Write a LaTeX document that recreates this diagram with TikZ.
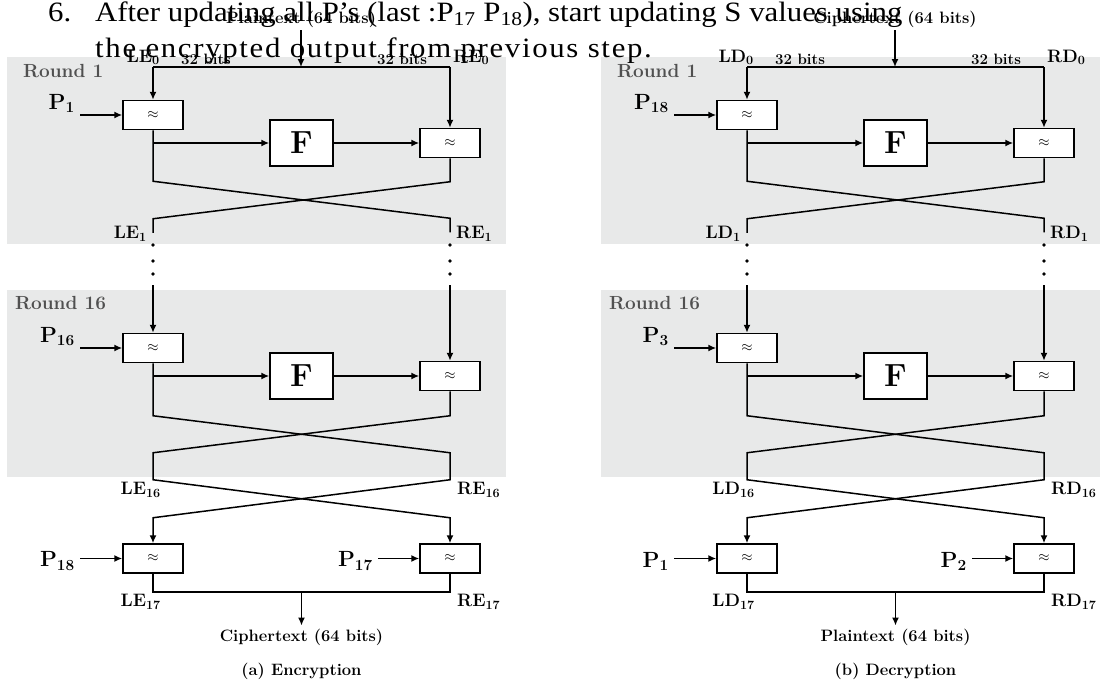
\documentclass[tikz,border=0pt]{standalone}
\usepackage{fontspec}
\newfontfamily\slidefont[FakeStretch=1.1]{Liberation Serif}
\usetikzlibrary{arrows.meta,positioning}
\definecolor{roundgray}{RGB}{232,233,233}
\definecolor{labelgray}{RGB}{80,80,80}

\begin{document}
\begin{tikzpicture}[x=1pt,y=-1pt,
    wire/.style={line width=1.5pt},
    flow/.style={wire,-{Latex[length=8pt,width=7pt]}},
    xorbox/.style={draw,line width=1.5pt,fill=white,minimum width=60pt,minimum height=29pt,inner sep=0pt,font=\fontsize{15}{15}\selectfont},
    fnbox/.style={draw,line width=1.5pt,fill=white,minimum width=63pt,minimum height=46pt,inner sep=0pt,font=\fontsize{32}{32}\selectfont\bfseries},
    sidelbl/.style={font=\fontsize{18}{18}\selectfont\bfseries,inner sep=0pt},
    keylbl/.style={font=\fontsize{22}{22}\selectfont\bfseries,inner sep=0pt},
    roundlbl/.style={font=\fontsize{19}{19}\selectfont\bfseries,text=labelgray,anchor=west,inner sep=0pt},
    bitlbl/.style={font=\fontsize{15}{15}\selectfont\bfseries,inner sep=0pt,anchor=south},
    textlbl/.style={font=\fontsize{16.5}{18}\selectfont\bfseries,inner sep=3pt},
    notelbl/.style={font=\slidefont\fontsize{28}{34}\selectfont,anchor=base west,inner sep=0pt}
]
    \useasboundingbox (0,0) rectangle (1106,686);

    \foreach \dx/\pn/\side/\intext/\outtext/\ka/\kb/\kc/\kd/\captxt in {%
        0/a/E/Plaintext/Ciphertext/1/16/18/17/(a) Encryption,%
        594/b/D/Ciphertext/Plaintext/18/3/1/2/(b) Decryption}{%
    \begin{scope}[xshift=\dx pt]
        % grey round areas
        \fill[roundgray] (7,57) rectangle (506,244);
        \fill[roundgray] (7,290) rectangle (506,477);
        \node[roundlbl] (rnd1\pn) at (23,71) {Round 1};
        \node[roundlbl] (rnd16\pn) at (15,303) {Round 16};

        % input halves
        \node[textlbl] (in\pn) at (301,19) {\intext{} (64 bits)};
        \coordinate (tl\pn) at (153,67);
        \coordinate (tm\pn) at (301,67);
        \coordinate (tr\pn) at (450,67);
        \node[sidelbl,anchor=south east] (l0\pn) at (160,65) {L\side\textsubscript{0}};
        \node[bitlbl] (bl\pn) at (206,65) {32 bits};
        \node[bitlbl] (br\pn) at (402,65) {32 bits};
        \node[sidelbl,anchor=south west] (r0\pn) at (453,65) {R\side\textsubscript{0}};
        \draw[flow] (in\pn) -- (tm\pn);

        % round 1
        \node[xorbox] (xl1\pn) at (153,115) {$\approx$};
        \node[fnbox] (f1\pn) at (301.5,143) {F};
        \node[xorbox] (xr1\pn) at (450,143) {$\approx$};
        \node[keylbl,anchor=south east] (k1\pn) at (75,113) {P\textsubscript{\ka}};
        \coordinate (k1s\pn) at (80,115);
        \draw[wire] (tl\pn) -- (tr\pn);
        \draw[flow] (tl\pn) -- (xl1\pn);
        \draw[flow] (tr\pn) -- (xr1\pn);
        \draw[flow] (k1s\pn) -- (xl1\pn);
        \draw[flow] (xl1\pn.south |- f1\pn) -- (f1\pn);
        \draw[flow] (f1\pn) -- (xr1\pn);
        \draw[wire] (xl1\pn.south) -- ++(0,51) -- ++(297,37) -- ++(0,14);
        \draw[wire] (xr1\pn.south) -- ++(0,23.5) -- ++(-297,37) -- ++(0,14);
        \node[sidelbl,anchor=east] (l1\pn) at (147,234) {L\side\textsubscript{1}};
        \node[sidelbl,anchor=west] (r1\pn) at (456,234) {R\side\textsubscript{1}};

        % rounds in between
        \foreach \yy in {245,261,274}{
            \fill (153,\yy) circle (1.8);
            \fill (450,\yy) circle (1.8);
        }

        % round 16
        \node[xorbox] (xl16\pn) at (153,348) {$\approx$};
        \node[fnbox] (f16\pn) at (301.5,376) {F};
        \node[xorbox] (xr16\pn) at (450,376) {$\approx$};
        \node[keylbl,anchor=south east] (k16\pn) at (75,346) {P\textsubscript{\kb}};
        \coordinate (k16s\pn) at (80,348);
        \coordinate (dl\pn) at (153,285);
        \coordinate (dr\pn) at (450,285);
        \draw[flow] (dl\pn) -- (xl16\pn);
        \draw[flow] (dr\pn) -- (xr16\pn);
        \draw[flow] (k16s\pn) -- (xl16\pn);
        \draw[flow] (xl16\pn.south |- f16\pn) -- (f16\pn);
        \draw[flow] (f16\pn) -- (xr16\pn);

        % undo last swap and output whitening
        \node[xorbox] (xl17\pn) at (153,558.5) {$\approx$};
        \node[xorbox] (xr17\pn) at (450,558.5) {$\approx$};
        \draw[flow] (xl16\pn.south) -- ++(0,52.5) -- ++(297,37) -- ++(0,27) -- ++(-297,38) -- (xl17\pn);
        \draw[flow] (xr16\pn.south) -- ++(0,24.5) -- ++(-297,37) -- ++(0,27) -- ++(297,38) -- (xr17\pn);
        \node[sidelbl,anchor=east] (l16\pn) at (161,490) {L\side\textsubscript{16}};
        \node[sidelbl,anchor=west] (r16\pn) at (457,490) {R\side\textsubscript{16}};
        \node[keylbl,anchor=east] (k18\pn) at (75,561) {P\textsubscript{\kc}};
        \node[keylbl,anchor=east] (k17\pn) at (373,561) {P\textsubscript{\kd}};
        \coordinate (k18s\pn) at (80,558.5);
        \coordinate (k17s\pn) at (378,558.5);
        \draw[flow] (k18s\pn) -- (xl17\pn);
        \draw[flow] (k17s\pn) -- (xr17\pn);
        \node[sidelbl,anchor=east] (l17\pn) at (161,602) {L\side\textsubscript{17}};
        \node[sidelbl,anchor=west] (r17\pn) at (457,602) {R\side\textsubscript{17}};

        % output
        \draw[wire] (xl17\pn.south) -- ++(0,18) -| (xr17\pn.south);
        \coordinate (om\pn) at (301.5,591.5);
        \node[textlbl] (out\pn) at (301.5,637) {\outtext{} (64 bits)};
        \draw[flow] (om\pn) -- (out\pn);
        \node[textlbl] (cap\pn) at (301.5,671) {\captxt};
    \end{scope}
    }

    % slide text on top
    \node[notelbl] (note1) at (48,21) {\makebox[47pt][l]{6.}After updating all P’s (last :P\textsubscript{17} P\textsubscript{18}), start updating S values using};
    \node[notelbl] (note2) at (95,57) {\addfontfeature{LetterSpace=6}the encrypted output from previous step.};
\end{tikzpicture}
\end{document}
